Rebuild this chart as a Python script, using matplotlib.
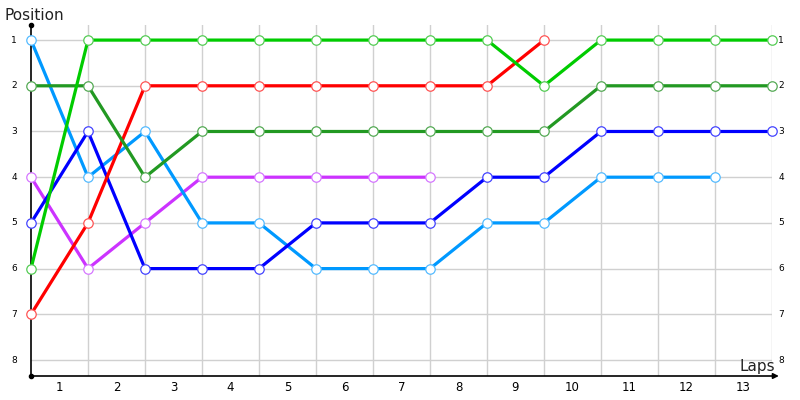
import matplotlib
matplotlib.use("Agg")
import matplotlib.pyplot as plt

# Position chart data: position of each driver after each lap (lap 0 = start)
laps = list(range(0, 14))
lap_labels = [str(i) for i in range(1, 14)]
positions = list(range(1, 9))

light_green = [6, 1, 1, 1, 1, 1, 1, 1, 1, 2, 1, 1, 1, 1]
dark_green = [2, 2, 4, 3, 3, 3, 3, 3, 3, 3, 2, 2, 2, 2]
red = [7, 5, 2, 2, 2, 2, 2, 2, 2, 1]
sky_blue = [1, 4, 3, 5, 5, 6, 6, 6, 5, 5, 4, 4, 4]
blue = [5, 3, 6, 6, 6, 5, 5, 5, 4, 4, 3, 3, 3, 3]
magenta = [4, 6, 5, 4, 4, 4, 4, 4]

series = [
    (magenta, "#cc33ff", "#d577ff"),
    (sky_blue, "#0099ff", "#55bbff"),
    (blue, "#0000ff", "#4444ff"),
    (red, "#ff0000", "#ff5555"),
    (dark_green, "#229922", "#55aa55"),
    (light_green, "#00cc00", "#55cc55"),
]

fig = plt.figure(figsize=(8, 4), dpi=100)
# axes spans pixels x 31..772, y 25..376
ax = fig.add_axes([31 / 800, 24 / 400, 741 / 800, 351 / 400])
ax.set_xlim(0, 13)
ax.set_ylim(8.35, 0.67)

# grid
for x in laps[1:]:
    ax.axvline(x, color="#d0d0d0", lw=1, zorder=0)
for y in positions:
    ax.axhline(y, color="#d0d0d0", lw=1, zorder=0)

for vals, col, mcol in series:
    ax.plot(laps[:len(vals)], vals, color=col, lw=2.3, zorder=3,
            marker="o", ms=6.8, mfc="white", mec=mcol, mew=0.9,
            solid_joinstyle="round", clip_on=False)

for s in ax.spines.values():
    s.set_visible(False)
ax.set_xticks([])
ax.set_yticks([])

# axes lines
ax.plot([0, 0], [8.35, 0.67], color="black", lw=1.2, clip_on=False, zorder=2)
ax.plot([0], [0.67], "o", color="black", ms=3, clip_on=False)
ax.plot([0], [8.35], "o", color="black", ms=3, clip_on=False)
ax.annotate("", xy=(13.12, 8.35), xytext=(0, 8.35), annotation_clip=False,
            arrowprops=dict(arrowstyle="-|>", color="black", lw=1.2,
                            mutation_scale=8, shrinkA=0, shrinkB=0))

# tick labels
for i, lab in enumerate(lap_labels):
    ax.text(i + 0.5, 8.6, lab, ha="center", va="center", fontsize=8.5,
            clip_on=False)
for p in positions:
    ax.text(-0.3, p, str(p), ha="center", va="center", fontsize=6.5,
            clip_on=False)
    ax.text(13.11, p, str(p), ha="left", va="center", fontsize=6.5,
            clip_on=False)

fig.text(4 / 800, 1 - 15 / 400, "Position", ha="left", va="center",
         fontsize=11, color="#222222")
fig.text(775 / 800, 1 - 366 / 400, "Laps", ha="right", va="center",
         fontsize=11, color="#222222")

fig.savefig("out.png", dpi=100)
